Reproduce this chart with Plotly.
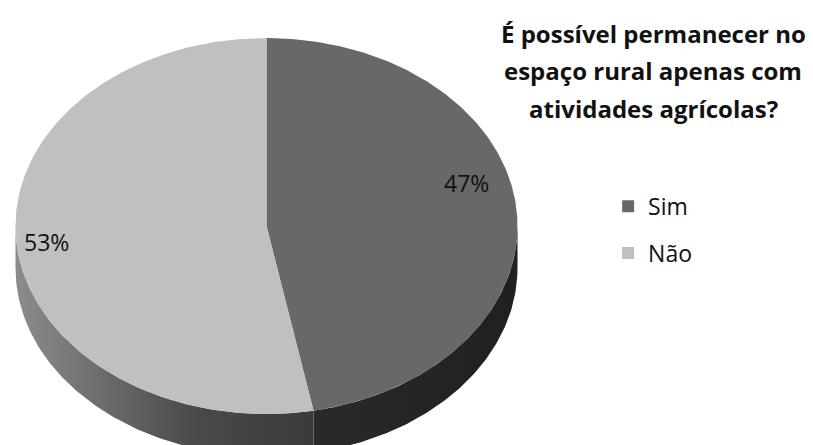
import numpy as np
import plotly.graph_objects as go

# Survey answers
categories = ["Sim", "Não"]
values = [47, 53]
title_lines = ["É possível permanecer no", "espaço rural apenas com", "atividades agrícolas?"]

# Styling for the 3-D looking pie
top_colors = ["#686868", "#c0c0c0"]
side_scales = [
    [[0, "#2a2a2a"], [1, "#202020"]],
    [[0, "#8c8c8c"], [0.6, "#4a4a4a"], [1, "#3a3a3a"]],
]
W, H = 813, 445
CX, CY, RX, RY, DEPTH = 266.5, 226.0, 251.0, 188.0, 42.0
FONT = "Open Sans"


def ellipse(t_deg, dy=0.0):
    """Point on the pie rim; t measured clockwise from 12 o'clock."""
    t = np.radians(t_deg)
    return CX + RX * np.sin(t), CY - RY * np.cos(t) + dy


total = float(sum(values))
bounds = np.concatenate([[0.0], np.cumsum(values) / total * 360.0])

fig = go.Figure()

# Side walls (only the front half, 90°..270°, is visible)
for i, cat in enumerate(categories):
    a0, a1 = max(bounds[i], 90.0), min(bounds[i + 1], 270.0)
    if a1 <= a0:
        continue
    ts = np.linspace(a0, a1, 120)
    xt, yt = ellipse(ts)
    xb, yb = ellipse(ts[::-1], DEPTH)
    fig.add_trace(go.Scatter(
        x=np.concatenate([xt, xb]), y=np.concatenate([yt, yb]),
        mode="lines", line=dict(width=0), fill="toself",
        fillgradient=dict(type="horizontal", colorscale=side_scales[i]),
        hoverinfo="skip", showlegend=False,
    ))

# Top faces
for i, cat in enumerate(categories):
    ts = np.linspace(bounds[i], bounds[i + 1], 240)
    xs, ys = ellipse(ts)
    fig.add_trace(go.Scatter(
        x=np.concatenate([[CX], xs, [CX]]), y=np.concatenate([[CY], ys, [CY]]),
        mode="lines", line=dict(width=0), fill="toself", fillcolor=top_colors[i],
        hoverinfo="skip", showlegend=False,
    ))

# Percentage labels placed along each slice's middle angle
label_frac = [0.8, 0.88]
label_shift = [29, 0]
for i, cat in enumerate(categories):
    mid = (bounds[i] + bounds[i + 1]) / 2.0
    t = np.radians(mid)
    lx = CX + RX * label_frac[i] * np.sin(t)
    ly = CY - RY * label_frac[i] * np.cos(t)
    fig.add_annotation(
        x=lx, y=ly, yshift=label_shift[i], text=f"{values[i] / total * 100:.0f}%",
        showarrow=False, font=dict(family=FONT, size=23, color="#111111"),
    )

# Legend entries
for i, cat in enumerate(categories):
    fig.add_trace(go.Scatter(
        x=[None], y=[None], mode="markers", name=cat, legendgroup=cat,
        marker=dict(symbol="square", size=14, color=top_colors[i]),
    ))

# Title, one annotation per line
for k, line in enumerate(title_lines):
    fig.add_annotation(
        x=653, y=33 + 37.5 * k, text=f"<b>{line}</b>", showarrow=False,
        font=dict(family=FONT, size=24, color="#111111"), xanchor="center", yanchor="middle",
    )

fig.update_layout(
    width=W, height=H, margin=dict(l=0, r=0, t=0, b=0),
    paper_bgcolor="white", plot_bgcolor="white",
    xaxis=dict(range=[0, W], visible=False, fixedrange=True),
    yaxis=dict(range=[H, 0], visible=False, fixedrange=True),
    legend=dict(
        x=0.748, y=0.585, xanchor="left", yanchor="top",
        font=dict(family=FONT, size=23, color="#111111"),
        tracegroupgap=14, itemsizing="constant", bgcolor="rgba(0,0,0,0)",
    ),
    showlegend=True,
)

fig.write_html("out.html")
